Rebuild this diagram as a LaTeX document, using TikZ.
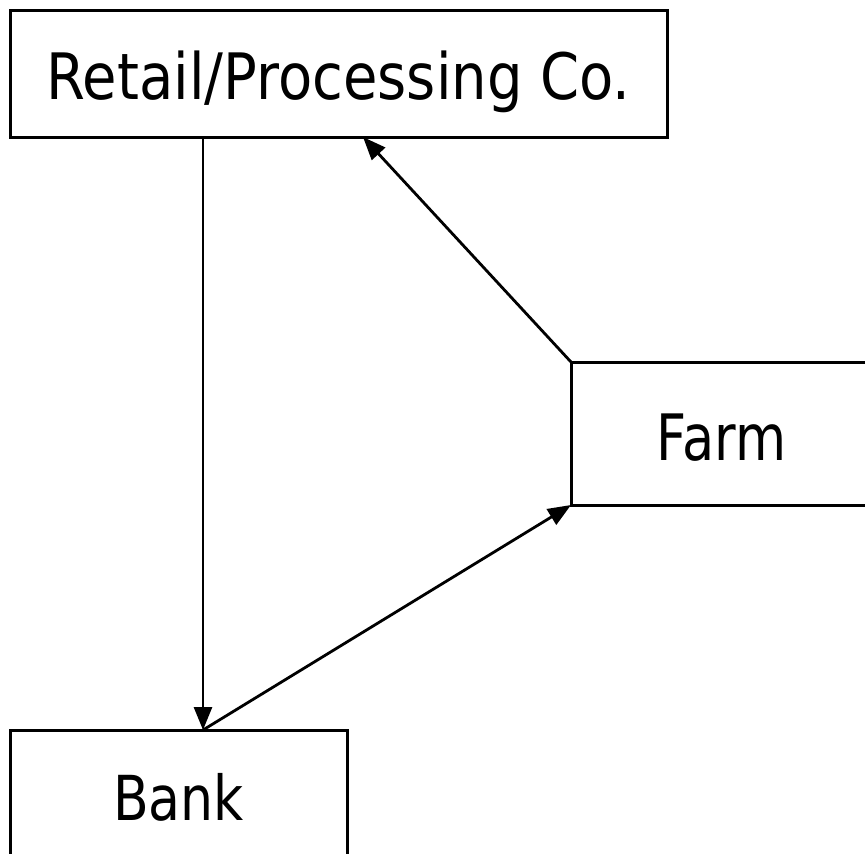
\documentclass[tikz,border=0pt]{standalone}
\usepackage{fontspec}
\setmainfont{DejaVu Sans}
\usetikzlibrary{arrows.meta,calc}
\begin{document}
\begin{tikzpicture}[x=1pt,y=-1pt,
  box/.style={draw,line width=3pt,inner sep=0pt,outer sep=0pt,text depth=0pt},
  arr/.style={line width=2.8pt,arrows={-Triangle[length=23pt,width=18pt]}}]
\useasboundingbox (0,0) rectangle (865,854);
\clip (0,0) rectangle (865,854);
\node[box,minimum width=657pt,minimum height=127pt,text height=47pt,
  font=\fontsize{64pt}{70pt}\selectfont] (retail) at (338.5,73.5)
  {\raisebox{-2.5pt}{\scalebox{0.875}[1]{Retail/Processing Co.}}};
\node[box,minimum width=301pt,minimum height=143pt,text height=47pt,
  font=\fontsize{64pt}{70pt}\selectfont] (farm) at (721.5,433.5)
  {\raisebox{-3pt}{\scalebox{0.82}[1]{Farm}}};
\node[box,minimum width=337pt,minimum height=135pt,text height=45pt,
  font=\fontsize{62pt}{70pt}\selectfont] (bank) at (178.5,797.5)
  {\scalebox{0.84}[1]{Bank}};
\coordinate (btop) at ($(bank.north west)+(193,0)$);
\coordinate (rtip) at ($(retail.south west)+(353,0)$);
\draw[arr] (btop |- retail.south) -- (btop);
\draw[arr] (farm.north west) -- (rtip);
\draw[arr] (btop) -- (farm.south west);
\end{tikzpicture}
\end{document}
